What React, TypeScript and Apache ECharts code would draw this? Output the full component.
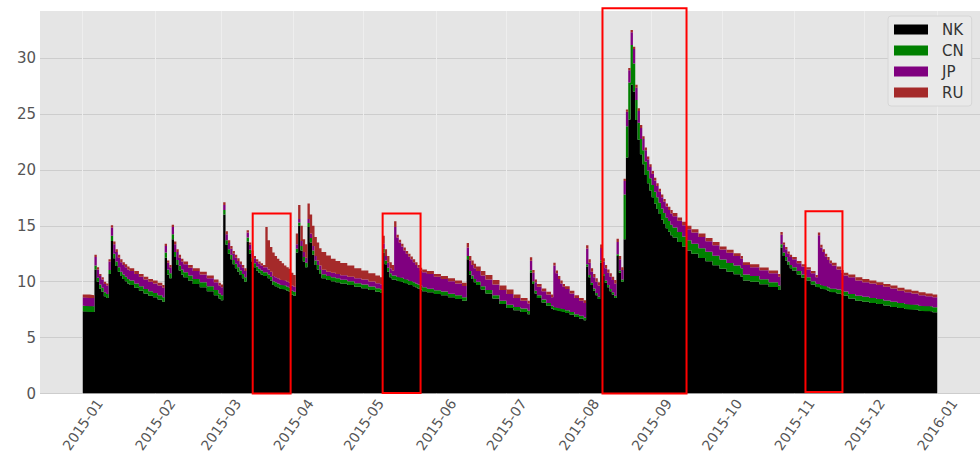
import React, { useEffect, useRef } from 'react';
import * as echarts from 'echarts';

// ---- data ----
const dates = [
  '2015-01-01','2015-01-04','2015-01-06','2015-01-07','2015-01-08','2015-01-09','2015-01-10','2015-01-11','2015-01-12','2015-01-13','2015-01-14','2015-01-15','2015-01-16','2015-01-17','2015-01-18','2015-01-19','2015-01-20','2015-01-21','2015-01-23','2015-01-25','2015-01-27','2015-01-29','2015-01-31',
  '2015-02-02','2015-02-04','2015-02-05','2015-02-06','2015-02-07','2015-02-08','2015-02-09','2015-02-10','2015-02-11','2015-02-12','2015-02-13','2015-02-15','2015-02-17','2015-02-20','2015-02-23','2015-02-26','2015-02-28',
  '2015-03-01','2015-03-02','2015-03-03','2015-03-04','2015-03-05','2015-03-06','2015-03-07','2015-03-08','2015-03-09','2015-03-10','2015-03-11','2015-03-12','2015-03-13','2015-03-14','2015-03-15','2015-03-16','2015-03-17','2015-03-18','2015-03-19','2015-03-20','2015-03-21','2015-03-22','2015-03-23','2015-03-24','2015-03-25','2015-03-26','2015-03-27','2015-03-28','2015-03-29','2015-03-30','2015-03-31',
  '2015-04-01','2015-04-02','2015-04-03','2015-04-04','2015-04-05','2015-04-06','2015-04-07','2015-04-08','2015-04-09','2015-04-10','2015-04-11','2015-04-12','2015-04-13','2015-04-15','2015-04-17','2015-04-19','2015-04-21','2015-04-24','2015-04-27','2015-04-30',
  '2015-05-03','2015-05-06','2015-05-08','2015-05-09','2015-05-10','2015-05-11','2015-05-12','2015-05-13','2015-05-14','2015-05-15','2015-05-16','2015-05-17','2015-05-18','2015-05-19','2015-05-20','2015-05-21','2015-05-22','2015-05-23','2015-05-24','2015-05-25','2015-05-26','2015-05-28','2015-05-31',
  '2015-06-03','2015-06-06','2015-06-09','2015-06-12','2015-06-14','2015-06-15','2015-06-16','2015-06-17','2015-06-18','2015-06-20','2015-06-22','2015-06-25','2015-06-28',
  '2015-07-01','2015-07-04','2015-07-07','2015-07-10','2015-07-11','2015-07-12','2015-07-13','2015-07-14','2015-07-16','2015-07-18','2015-07-20','2015-07-21','2015-07-22','2015-07-23','2015-07-24','2015-07-25','2015-07-26','2015-07-28','2015-07-30',
  '2015-08-01','2015-08-03','2015-08-04','2015-08-05','2015-08-06','2015-08-07','2015-08-08','2015-08-09','2015-08-10','2015-08-11','2015-08-12','2015-08-13','2015-08-14','2015-08-15','2015-08-16','2015-08-17','2015-08-18','2015-08-19','2015-08-20','2015-08-21','2015-08-22','2015-08-23','2015-08-24','2015-08-25','2015-08-26','2015-08-27','2015-08-28','2015-08-29','2015-08-30','2015-08-31',
  '2015-09-01','2015-09-02','2015-09-03','2015-09-04','2015-09-05','2015-09-06','2015-09-07','2015-09-08','2015-09-09','2015-09-10','2015-09-12','2015-09-14','2015-09-16','2015-09-18','2015-09-21','2015-09-24','2015-09-27','2015-09-30',
  '2015-10-03','2015-10-06','2015-10-09','2015-10-10','2015-10-13','2015-10-17','2015-10-21','2015-10-25','2015-10-26','2015-10-27','2015-10-28','2015-10-29','2015-10-30','2015-10-31',
  '2015-11-02','2015-11-04','2015-11-06','2015-11-08','2015-11-10','2015-11-11','2015-11-12','2015-11-13','2015-11-14','2015-11-15','2015-11-16','2015-11-17','2015-11-19','2015-11-21','2015-11-22','2015-11-24','2015-11-27','2015-11-30',
  '2015-12-03','2015-12-06','2015-12-09','2015-12-12','2015-12-15','2015-12-18','2015-12-21','2015-12-24','2015-12-27','2015-12-30','2016-01-01',
];

const nk = [
  7.35,7.3,11.1,10.0,9.4,9.1,8.7,8.55,10.7,13.65,12.1,11.4,10.9,10.5,10.25,10.05,9.85,9.7,9.45,9.2,8.95,8.75,8.6,
  8.4,8.2,12.15,10.65,10.3,13.8,12.2,11.5,11.0,10.65,10.4,10.1,9.8,9.5,9.15,8.8,8.5,
  8.35,16.0,13.3,12.5,12.0,11.55,11.2,10.9,10.6,10.3,10.0,13.6,12.5,11.8,11.3,11.0,10.8,10.65,10.5,10.5,10.3,10.1,9.7,9.6,9.5,9.4,9.35,9.3,9.2,9.1,8.85,
  8.75,12.6,15.0,12.8,11.8,11.3,14.9,13.5,12.4,11.5,11.1,10.7,10.3,10.15,10.05,9.95,9.85,9.7,9.55,9.42,
  9.25,9.1,9.0,12.6,11.55,10.9,10.4,10.2,10.2,10.1,10.05,10.0,9.9,9.85,9.75,9.7,9.6,9.5,9.4,9.3,9.15,9.05,8.9,
  8.8,8.6,8.45,8.3,12.0,10.65,10.25,9.95,9.7,9.3,8.95,8.5,8.0,
  7.65,7.45,7.3,7.1,10.83,9.8,8.95,8.55,8.15,7.85,7.6,7.5,7.45,7.4,7.35,7.3,7.2,7.05,6.85,
  6.7,6.55,11.37,10.4,9.7,9.2,8.8,8.45,11.72,10.5,9.9,9.5,9.15,8.85,8.55,12.3,10.8,10.0,13.8,21.1,24.5,27.6,27.0,24.45,22.7,21.4,20.5,19.55,18.8,18.15,
  17.55,17.0,16.5,16.05,15.55,15.15,14.77,14.47,14.15,13.95,13.55,13.15,12.8,12.5,12.12,11.82,11.47,11.16,
  10.88,10.66,10.45,10.1,10.0,9.78,9.53,9.25,13.05,12.3,11.9,11.5,11.2,11.0,
  10.65,10.35,10.1,9.75,9.55,9.5,9.4,9.35,9.3,9.2,9.1,9.05,8.95,8.85,8.75,8.5,8.3,8.2,
  8.1,8.0,7.87,7.75,7.65,7.55,7.5,7.4,7.35,7.27,7.27,
];

const cn = [
  0.5,0.5,0.35,0.35,0.35,0.35,0.35,0.35,0.35,0.45,0.4,0.4,0.4,0.4,0.4,0.4,0.4,0.4,0.4,0.4,0.4,0.4,0.4,
  0.4,0.4,0.45,0.45,0.45,0.45,0.45,0.45,0.45,0.45,0.45,0.45,0.45,0.45,0.45,0.45,0.45,
  0.45,0.4,0.4,0.4,0.4,0.4,0.4,0.4,0.4,0.4,0.4,0.35,0.35,0.35,0.35,0.35,0.35,0.35,0.35,0.35,0.35,0.35,0.35,0.35,0.35,0.35,0.35,0.35,0.35,0.35,0.35,
  0.35,0.35,0.3,0.4,0.4,0.4,0.35,0.4,0.4,0.4,0.4,0.35,0.36,0.35,0.35,0.35,0.33,0.33,0.32,0.32,
  0.32,0.32,0.32,0.35,0.35,0.35,0.35,0.35,0.35,0.35,0.35,0.35,0.35,0.35,0.35,0.35,0.35,0.35,0.35,0.35,0.35,0.33,0.33,
  0.33,0.33,0.33,0.32,0.3,0.3,0.3,0.3,0.3,0.3,0.3,0.3,0.3,
  0.3,0.3,0.3,0.3,0.2,0.25,0.25,0.25,0.25,0.25,0.25,0.25,0.25,0.25,0.25,0.25,0.25,0.25,0.25,
  0.25,0.25,0.2,0.2,0.2,0.2,0.2,0.2,0.2,0.2,0.2,0.2,0.2,0.2,0.2,0.15,0.2,0.2,4.0,2.8,3.3,3.55,2.5,1.8,1.5,1.35,1.25,1.2,1.15,1.1,
  1.1,1.05,1.05,1.0,1.0,1.0,0.95,0.95,0.95,0.9,0.9,0.9,0.9,0.9,0.88,0.85,0.85,0.82,
  0.8,0.78,0.75,0.55,0.5,0.45,0.42,0.4,0.3,0.3,0.3,0.3,0.3,0.3,
  0.3,0.3,0.3,0.3,0.3,0.3,0.3,0.3,0.3,0.3,0.3,0.32,0.35,0.35,0.38,0.4,0.45,0.45,
  0.45,0.45,0.45,0.45,0.45,0.45,0.45,0.45,0.45,0.45,0.45,
];

const jp = [
  0.75,0.75,0.75,0.75,0.75,0.75,0.75,0.75,0.75,0.75,0.85,0.85,0.85,0.85,0.85,0.85,0.85,0.85,0.85,0.85,0.85,0.85,0.85,
  0.85,0.85,0.6,0.6,0.55,0.65,0.7,0.7,0.7,0.7,0.7,0.7,0.7,0.7,0.7,0.7,0.7,
  0.7,0.45,0.55,0.55,0.55,0.55,0.55,0.55,0.55,0.55,0.55,0.45,0.45,0.45,0.45,0.45,0.45,0.45,0.45,0.45,0.45,0.45,0.45,0.45,0.45,0.45,0.45,0.45,0.45,0.45,0.45,
  0.45,0.4,0.3,0.45,0.45,0.45,0.35,0.4,0.4,0.4,0.4,0.4,0.4,0.4,0.4,0.4,0.4,0.42,0.43,0.45,
  0.45,0.45,0.45,0.45,0.4,0.45,0.45,0.45,4.35,3.5,3.1,2.8,2.55,2.3,2.15,1.95,1.8,1.65,1.5,1.35,1.35,1.32,1.22,
  1.12,1.1,1.05,1.0,0.75,0.95,0.95,0.95,0.95,0.95,0.95,0.95,0.95,
  0.95,0.8,0.7,0.65,0.85,0.75,0.75,0.75,0.75,0.75,0.75,3.7,3.05,2.6,2.25,2.0,1.9,1.65,1.45,
  1.35,1.3,1.4,1.1,1.0,1.0,1.0,1.0,1.1,1.1,1.1,1.1,1.1,1.1,1.1,1.1,1.0,0.85,1.2,1.3,1.1,1.15,1.3,1.1,1.05,1.0,1.0,1.0,1.0,1.0,
  1.0,1.0,1.0,1.0,1.0,1.0,1.0,1.0,1.0,1.0,1.0,1.0,1.0,1.0,1.0,0.95,0.95,0.9,
  0.9,0.85,0.85,0.85,0.8,0.8,0.8,0.8,0.85,0.7,0.7,0.7,0.7,0.7,
  0.7,0.7,0.7,0.7,0.55,4.35,3.35,3.0,2.65,2.45,2.25,2.08,1.8,1.6,1.42,1.5,1.35,1.3,
  1.3,1.25,1.23,1.2,1.1,1.05,1.0,0.95,0.9,0.9,0.9,
];

const ru = [
  0.25,0.25,0.2,0.2,0.2,0.2,0.2,0.2,0.2,0.2,0.25,0.25,0.25,0.25,0.25,0.25,0.25,0.25,0.25,0.25,0.25,0.25,0.25,
  0.25,0.25,0.2,0.2,0.2,0.2,0.25,0.25,0.25,0.25,0.25,0.25,0.25,0.25,0.25,0.25,0.25,
  0.25,0.25,0.25,0.25,0.25,0.25,0.25,0.25,0.25,0.25,0.25,0.2,0.2,0.2,0.2,0.2,0.2,0.2,0.2,3.6,2.6,2.2,2.1,1.9,1.75,1.65,1.5,1.35,1.3,1.25,1.15,
  1.05,0.95,1.25,1.35,1.15,1.2,1.4,1.7,1.8,1.7,1.6,1.55,1.6,1.45,1.25,1.15,1.1,1.0,0.9,0.82,
  0.73,0.68,0.63,0.7,0.6,0.6,0.55,0.5,0.5,0.25,0.25,0.25,0.25,0.25,0.25,0.25,0.25,0.25,0.25,0.25,0.25,0.25,0.25,
  0.25,0.27,0.27,0.28,0.4,0.4,0.4,0.4,0.4,0.4,0.4,0.4,0.4,
  0.4,0.3,0.25,0.25,0.3,0.25,0.25,0.25,0.25,0.25,0.25,0.25,0.25,0.25,0.25,0.25,0.25,0.25,0.25,
  0.25,0.25,0.3,0.3,0.3,0.3,0.3,0.3,0.3,0.3,0.3,0.3,0.3,0.3,0.3,0.3,0.3,0.25,0.2,0.2,0.2,0.2,0.2,0.25,0.25,0.25,0.25,0.25,0.25,0.25,
  0.25,0.25,0.25,0.25,0.25,0.25,0.28,0.28,0.3,0.3,0.3,0.3,0.3,0.3,0.3,0.28,0.28,0.27,
  0.27,0.26,0.25,0.25,0.25,0.25,0.25,0.25,0.25,0.2,0.2,0.2,0.2,0.2,
  0.2,0.2,0.2,0.2,0.2,0.25,0.25,0.25,0.25,0.25,0.25,0.25,0.25,0.25,0.25,0.25,0.3,0.3,
  0.25,0.25,0.25,0.25,0.25,0.25,0.25,0.25,0.25,0.23,0.23,
];

const seriesNames = ['NK', 'CN', 'JP', 'RU'];
const seriesColors = ['#000000', '#008000', '#800080', '#a52a2a'];
const yTicks = [0, 5, 10, 15, 20, 25, 30];
const yMax = 34.2;

// highlighted windows (days after 2015-01-01, values on the y axis)
const boxStartDay = [72.6, 128.1, 222.0, 308.7];
const boxEndDay = [88.8, 144.3, 257.9, 324.5];
const boxBottom = [0, 0.05, 0, 0.15];
const boxTop = [16.1, 16.1, 34.45, 16.3];

export default function App() {
  const ref = useRef<HTMLDivElement>(null);

  useEffect(() => {
    const el = ref.current;
    if (!el) return;
    const chart = echarts.init(el, null, { renderer: 'svg' });
    const DAY = 86400000;
    const t0 = new Date(2015, 0, 1).getTime();
    const t1 = new Date(2016, 0, 1).getTime();
    const pad = (t1 - t0) * 0.05;
    const stacks = [nk, cn, jp, ru];

    chart.setOption({
      animation: false,
      backgroundColor: '#ffffff',
      textStyle: { fontFamily: 'DejaVu Sans' },
      grid: {
        left: 40, right: 0, top: 11, bottom: 60,
        show: true, backgroundColor: '#e5e5e5', borderWidth: 0,
      },
      legend: {
        orient: 'vertical',
        left: 888, top: 16,
        padding: [6, 8, 6, 6],
        itemWidth: 34, itemHeight: 10, itemGap: 6,
        backgroundColor: '#e9e9e9',
        borderColor: '#d6d6d6', borderWidth: 1, borderRadius: 3,
        data: seriesNames.map((n) => ({ name: n, icon: 'rect' })),
        itemStyle: { borderWidth: 0 },
        textStyle: { fontSize: 15, color: '#333333', lineHeight: 15, padding: [0, 0, 0, 9], fontFamily: 'DejaVu Sans' },
      },
      xAxis: {
        type: 'time',
        min: t0 - pad,
        max: t1 + pad,
        splitNumber: 12,
        minInterval: 28 * DAY,
        maxInterval: 31 * DAY,
        axisLine: { show: false },
        axisTick: { show: false },
        splitLine: { show: true, showMinLine: false, showMaxLine: false, lineStyle: { color: '#eeeeee', width: 1 } },
        axisLabel: {
          rotate: 55,
          align: 'center',
          verticalAlign: 'middle',
          margin: 31,
          fontSize: 14,
          color: '#555555',
          hideOverlap: false,
          formatter: (v: number) => {
            const d = new Date(v);
            if (d.getDate() !== 1 || d.getHours() !== 0) return '';
            return d.getFullYear() + '-' + String(d.getMonth() + 1).padStart(2, '0');
          },
        },
      },
      yAxis: {
        type: 'value',
        min: 0,
        max: yMax,
        interval: 5,
        axisLine: { show: false },
        axisTick: { show: false },
        splitLine: { show: true, showMaxLine: false, lineStyle: { color: '#cdcdcd', width: 1 } },
        axisLabel: {
          fontSize: 15,
          color: '#555555',
          margin: 4,
          formatter: (v: number) => (yTicks.indexOf(v) >= 0 ? String(v) : ''),
        },
      },
      series: seriesNames.map((name, i) => ({
        name,
        type: 'line',
        stack: 'total',
        step: 'end',
        symbol: 'none',
        showSymbol: false,
        color: seriesColors[i],
        itemStyle: { color: seriesColors[i] },
        lineStyle: { width: 0, opacity: 0 },
        areaStyle: { color: seriesColors[i], opacity: 1 },
        data: dates.map((d, k) => [d, stacks[i][k]]),
      })),
    });

    const rects = boxStartDay.map((s, i) => {
      const p1 = chart.convertToPixel({ xAxisIndex: 0, yAxisIndex: 0 }, [t0 + s * DAY, boxTop[i]]) as number[];
      const p2 = chart.convertToPixel({ xAxisIndex: 0, yAxisIndex: 0 }, [t0 + boxEndDay[i] * DAY, boxBottom[i]]) as number[];
      return {
        type: 'rect',
        z: 100,
        silent: true,
        shape: { x: p1[0], y: p1[1], width: p2[0] - p1[0], height: p2[1] - p1[1] },
        style: { fill: 'none', stroke: '#ff0000', lineWidth: 2 },
      };
    });
    chart.setOption({ graphic: rects });

    return () => chart.dispose();
  }, []);

  return <div ref={ref} style={{ position: 'absolute', left: 0, top: 0, width: 980, height: 455 }} />;
}
